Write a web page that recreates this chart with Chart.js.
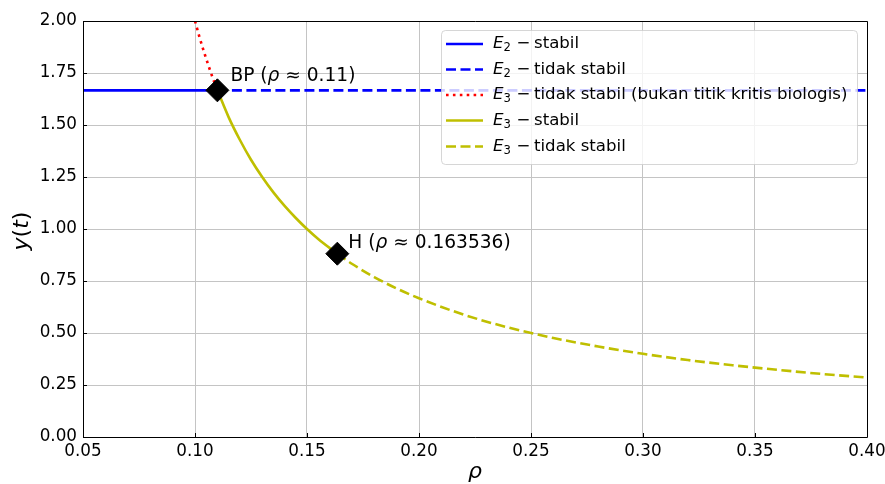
<!DOCTYPE html>
<html><head><meta charset="utf-8">
<script src="https://cdn.jsdelivr.net/npm/chart.js@4/dist/chart.umd.min.js"></script>
<style>html,body{margin:0;padding:0;background:#fff}#wrap{width:885px;height:484px}</style>
</head><body><div id="wrap"><canvas id="c" width="885" height="484"></canvas></div>
<script>
// ---- data ----
const xTicks = [0.05, 0.10, 0.15, 0.20, 0.25, 0.30, 0.35, 0.40];
const yTicks = [0.00, 0.25, 0.50, 0.75, 1.00, 1.25, 1.50, 1.75, 2.00];

const e2Level = 1.6667;
const e2StableRho = [0.05, 0.11];
const e2UnstableRho = [0.11, 0.40];

const e3BioRho = [0.100, 0.102, 0.104, 0.106, 0.108, 0.110];
const e3BioY   = [2.000, 1.923, 1.852, 1.786, 1.724, 1.667];

const e3StableRho = [0.110, 0.115, 0.120, 0.125, 0.130, 0.135, 0.140, 0.145, 0.150, 0.155, 0.1635];
const e3StableY   = [1.667, 1.538, 1.429, 1.333, 1.250, 1.176, 1.111, 1.053, 1.000, 0.952, 0.881];

const e3UnstableRho = [0.1635, 0.17, 0.18, 0.19, 0.20, 0.22, 0.24, 0.26, 0.28, 0.30, 0.32, 0.34, 0.36, 0.38, 0.40];
const e3UnstableY   = [0.881, 0.833, 0.769, 0.714, 0.667, 0.588, 0.526, 0.476, 0.435, 0.400, 0.370, 0.345, 0.323, 0.303, 0.286];

const bifRho = [0.11, 0.163536];
const bifY = [1.6667, 0.8813];
const bifNames = ['BP', 'H'];
const bifValues = ['0.11', '0.163536'];

const legendTexts = ['stabil', 'tidak stabil', 'tidak stabil (bukan titik kritis biologis)', 'stabil', 'tidak stabil'];
const legendSubs = ['2', '2', '3', '3', '3'];

// ---- styles ----
const BLUE = '#0000ff', RED = '#ff0000', YEL = '#bfbf00';
const FONT = '"DejaVu Sans", sans-serif';
const LW = 2.6;
const TICK_SIZE = 16.8, LEG_SIZE = 16.6, ANN_SIZE = 18.6, TITLE_SIZE = 22;
const pts = (xs, ys) => xs.map((x, i) => ({x: x, y: ys[i]}));

const datasets = [
  {label: 'E2 stabil', data: pts(e2StableRho, e2StableRho.map(() => e2Level)), borderColor: BLUE, borderWidth: LW, pointRadius: 0, order: 2, style: []},
  {label: 'E2 tidak stabil', data: pts(e2UnstableRho, e2UnstableRho.map(() => e2Level)), borderColor: BLUE, borderWidth: LW, borderDash: [10, 4.5], pointRadius: 0, order: 2, style: [10, 4.5]},
  {label: 'E3 bio', data: pts(e3BioRho, e3BioY), borderColor: RED, borderWidth: LW, borderDash: [2.6, 4.3], pointRadius: 0, order: 2, cubicInterpolationMode: 'monotone', style: [2.6, 4.3]},
  {label: 'E3 stabil', data: pts(e3StableRho, e3StableY), borderColor: YEL, borderWidth: LW, pointRadius: 0, order: 2, cubicInterpolationMode: 'monotone', style: []},
  {label: 'E3 tidak stabil', data: pts(e3UnstableRho, e3UnstableY), borderColor: YEL, borderWidth: LW, borderDash: [10, 4.5], pointRadius: 0, order: 2, cubicInterpolationMode: 'monotone', style: [10, 4.5]},
  {label: 'bif', data: pts(bifRho, bifY), showLine: false, pointStyle: 'rectRot', pointRadius: 11.5, pointBackgroundColor: '#000', pointBorderColor: '#000', pointBorderWidth: 1, order: 0}
];

function drawMixed(ctx, x, y, parts) {
  let cx = x;
  parts.forEach(p => {
    ctx.font = (p[1] ? 'italic ' : '') + p[2] + 'px ' + FONT;
    ctx.fillText(p[0], cx, y + (p[3] || 0));
    cx += ctx.measureText(p[0]).width;
  });
  return cx;
}

const decor = {
  id: 'decor',
  afterDatasetsDraw(chart) {
    const ctx = chart.ctx, xs = chart.scales.x, ys = chart.scales.y;
    ctx.save();
    ctx.fillStyle = '#000';
    ctx.textBaseline = 'middle';
    ctx.textAlign = 'left';
    const offs = [[13, -14], [11, -11]];
    bifRho.forEach((r, i) => {
      const px = xs.getPixelForValue(r) + offs[i][0];
      const py = ys.getPixelForValue(bifY[i]) + offs[i][1];
      drawMixed(ctx, px, py, [[bifNames[i] + ' (', false, ANN_SIZE], ['ρ', true, ANN_SIZE], [' ≈ ' + bifValues[i] + ')', false, ANN_SIZE]]);
    });
    // legend
    const bx = 441.5, by = 30.5, bw = 416, bh = 134;
    ctx.beginPath();
    ctx.roundRect(bx, by, bw, bh, 4);
    ctx.fillStyle = 'rgba(255,255,255,0.8)';
    ctx.fill();
    ctx.strokeStyle = 'rgba(204,204,204,0.8)';
    ctx.lineWidth = 1;
    ctx.stroke();
    const rowsY = [44, 69.5, 95, 120.5, 146.5];
    for (let i = 0; i < 5; i++) {
      const ds = datasets[i];
      const yy = rowsY[i];
      ctx.beginPath();
      ctx.setLineDash(ds.style);
      ctx.strokeStyle = ds.borderColor;
      ctx.lineWidth = LW;
      ctx.moveTo(446, yy);
      ctx.lineTo(483, yy);
      ctx.stroke();
      ctx.setLineDash([]);
      ctx.fillStyle = '#000';
      ctx.font = 'italic ' + LEG_SIZE + 'px ' + FONT;
      ctx.fillText('E', 493, yy);
      const w = ctx.measureText('E').width;
      ctx.font = (LEG_SIZE * 0.7) + 'px ' + FONT;
      ctx.fillText(legendSubs[i], 493 + w, yy + 4);
      ctx.font = LEG_SIZE + 'px ' + FONT;
      ctx.fillText('−', 516.5, yy);
      ctx.fillText(legendTexts[i], 534, yy);
    }
    ctx.restore();
  },
  afterDraw(chart) {
    const ctx = chart.ctx, xs = chart.scales.x, ys = chart.scales.y, a = chart.chartArea;
    ctx.save();
    ctx.strokeStyle = '#000';
    ctx.lineWidth = 1;
    ctx.beginPath();
    xTicks.forEach(v => { const p = Math.round(xs.getPixelForValue(v)) + 0.5; ctx.moveTo(p, a.bottom); ctx.lineTo(p, a.bottom - 4); });
    yTicks.forEach(v => { const p = Math.round(ys.getPixelForValue(v)) + 0.5; ctx.moveTo(a.left, p); ctx.lineTo(a.left + 4, p); });
    ctx.stroke();
    ctx.beginPath();
    ctx.rect(Math.round(a.left) + 0.5, Math.round(a.top) + 0.5, Math.round(a.right - a.left), Math.round(a.bottom - a.top));
    ctx.stroke();
    ctx.fillStyle = '#000';
    ctx.textBaseline = 'middle';
    ctx.textAlign = 'center';
    ctx.font = 'italic ' + TITLE_SIZE + 'px ' + FONT;
    ctx.fillText('ρ', 475, 472);
    ctx.translate(22, 231);
    ctx.rotate(-Math.PI / 2);
    ctx.textAlign = 'left';
    const parts = [['y', true], ['(', false], ['t', true], [')', false]];
    let total = 0;
    parts.forEach(p => { ctx.font = (p[1] ? 'italic ' : '') + TITLE_SIZE + 'px ' + FONT; total += ctx.measureText(p[0]).width; });
    drawMixed(ctx, -total / 2, 0, parts.map(p => [p[0], p[1], TITLE_SIZE]));
    ctx.restore();
  }
};

new Chart(document.getElementById('c'), {
  type: 'line',
  data: {datasets: datasets},
  plugins: [decor],
  options: {
    responsive: false,
    animation: false,
    devicePixelRatio: 1,
    layout: {padding: {left: 0, right: 18, top: 21, bottom: 0}},
    plugins: {legend: {display: false}, tooltip: {enabled: false}},
    scales: {
      x: {
        type: 'linear', min: 0.05, max: 0.40,
        afterBuildTicks: s => { s.ticks = xTicks.map(v => ({value: v})); },
        afterFit: s => { s.height = 47; s.paddingLeft = 0; s.paddingRight = 0; },
        ticks: {callback: v => Number(v).toFixed(2), color: '#000', font: {family: FONT, size: TICK_SIZE}, padding: 5, maxRotation: 0, autoSkip: false},
        grid: {color: '#c4c4c4', lineWidth: 1, drawTicks: false},
        border: {display: false}
      },
      y: {
        type: 'linear', min: 0, max: 2,
        afterBuildTicks: s => { s.ticks = yTicks.map(v => ({value: v})); },
        afterFit: s => { s.width = 83; s.paddingTop = 0; s.paddingBottom = 0; },
        ticks: {callback: v => Number(v).toFixed(2), color: '#000', font: {family: FONT, size: TICK_SIZE}, padding: 6, autoSkip: false},
        grid: {color: '#c4c4c4', lineWidth: 1, drawTicks: false},
        border: {display: false}
      }
    }
  }
});
</script>
</body></html>
